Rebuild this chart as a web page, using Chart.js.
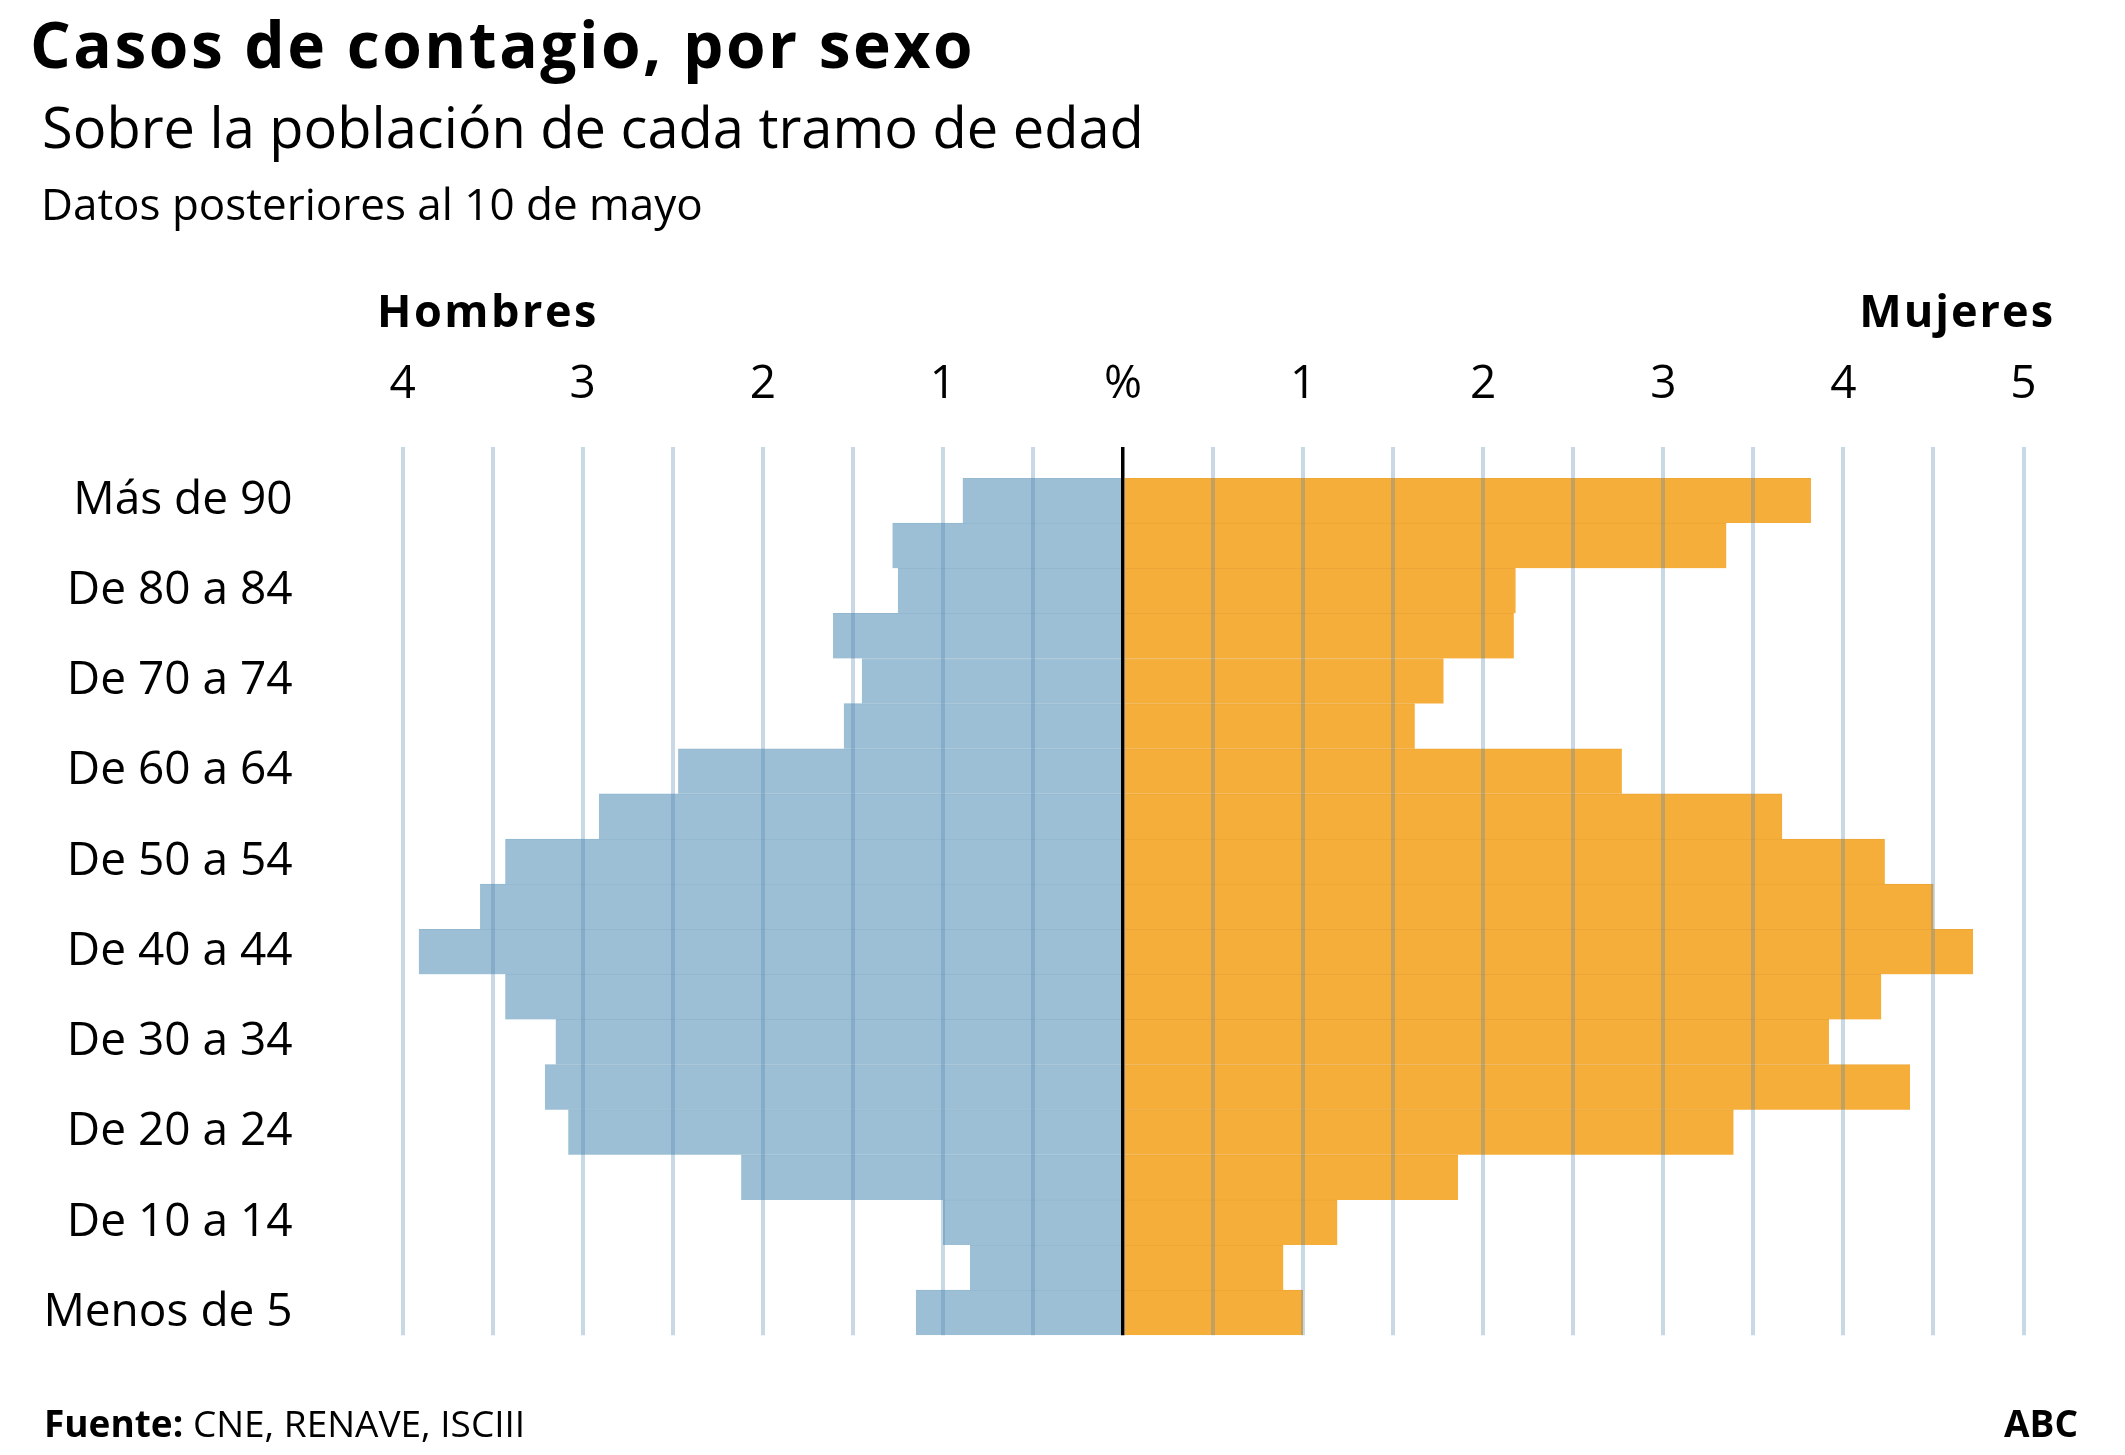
<!DOCTYPE html>
<html lang="es">
<head>
<meta charset="utf-8">
<title>Casos de contagio, por sexo</title>
<script src="https://cdn.jsdelivr.net/npm/chart.js@4.4.1/dist/chart.umd.min.js"></script>
<style>
  html, body { margin: 0; padding: 0; background: #fff; }
  body { width: 2125px; height: 1455px; position: relative; overflow: hidden; font-family: "Open Sans", sans-serif; color: #000; }
  #chart { position: absolute; left: 0; top: 0; }
  .t { position: absolute; white-space: nowrap; line-height: 1; color: #000; }
  #title { left: 30px; top: 12px; font-size: 64px; font-weight: 700; letter-spacing: 2.5px; }
  #subtitle { left: 42px; top: 98px; font-size: 56px; font-weight: 400; }
  #note { left: 41px; top: 181px; font-size: 44px; font-weight: 400; }
  #hombres { left: 377px; top: 287px; font-size: 45px; font-weight: 700; letter-spacing: 2.5px; }
  #mujeres { right: 70px; top: 287px; font-size: 45px; font-weight: 700; letter-spacing: 2px; }
  #source { left: 44px; top: 1404px; font-size: 37px; }
  #source b { font-weight: 700; }
  #brand { right: 47px; top: 1404px; font-size: 37px; font-weight: 700; }
</style>
</head>
<body>
<canvas id="chart" width="2125" height="1455"></canvas>
<div class="t" id="title">Casos de contagio, por sexo</div>
<div class="t" id="subtitle">Sobre la población de cada tramo de edad</div>
<div class="t" id="note">Datos posteriores al 10 de mayo</div>
<div class="t" id="hombres">Hombres</div>
<div class="t" id="mujeres">Mujeres</div>
<div class="t" id="source"><b>Fuente:</b> CNE, RENAVE, ISCIII</div>
<div class="t" id="brand">ABC</div>
<script>
// Age groups, top to bottom
const categories = ['Más de 90','De 85 a 89','De 80 a 84','De 75 a 79','De 70 a 74','De 65 a 69','De 60 a 64','De 55 a 59','De 50 a 54','De 45 a 49','De 40 a 44','De 35 a 39','De 30 a 34','De 25 a 29','De 20 a 24','De 15 a 19','De 10 a 14','De 5 a 9','Menos de 5'];
// % of cases over population of each age band
const hombres = [0.89, 1.28, 1.25, 1.61, 1.45, 1.55, 2.47, 2.91, 3.43, 3.57, 3.91, 3.43, 3.15, 3.21, 3.08, 2.12, 1.00, 0.85, 1.15];
const mujeres = [3.82, 3.35, 2.18, 2.17, 1.78, 1.62, 2.77, 3.66, 4.23, 4.50, 4.72, 4.21, 3.92, 4.37, 3.39, 1.86, 1.19, 0.89, 1.00];
// Axis ticks
const tickValues = [-4, -3, -2, -1, 0, 1, 2, 3, 4, 5];
const tickLabels = ['4', '3', '2', '1', '%', '1', '2', '3', '4', '5'];

const GRID = 'rgba(85,135,175,0.32)';
const FONT = '"Open Sans", sans-serif';

new Chart(document.getElementById('chart'), {
  type: 'bar',
  data: {
    labels: categories,
    datasets: [
      {
        label: 'Hombres',
        data: hombres.map(v => -v),
        backgroundColor: '#9cbfd5',
        borderColor: '#92b7ce',
        borderWidth: { top: 1, bottom: 0, left: 0, right: 0 },
        borderSkipped: false,
        barPercentage: 1,
        categoryPercentage: 1
      },
      {
        label: 'Mujeres',
        data: mujeres,
        backgroundColor: '#f6ae3b',
        borderColor: '#eca536',
        borderWidth: { top: 1, bottom: 0, left: 0, right: 0 },
        borderSkipped: false,
        barPercentage: 1,
        categoryPercentage: 1
      }
    ]
  },
  options: {
    indexAxis: 'y',
    responsive: false,
    devicePixelRatio: 1,
    animation: false,
    layout: { padding: { top: 278, right: 101.5, bottom: 119.7, left: 0 } },
    plugins: { legend: { display: false }, tooltip: { enabled: false }, title: { display: false } },
    scales: {
      x: {
        position: 'top',
        stacked: true,
        min: -4,
        max: 5,
        afterFit: s => { s.height = 200; s.paddingLeft = 0; s.paddingRight = 0; },
        afterBuildTicks: s => {
          const t = [];
          for (let v = -4; v <= 5.001; v += 0.5) t.push({ value: Math.round(v * 2) / 2 });
          s.ticks = t;
        },
        border: { display: false },
        grid: {
          z: 1,
          drawOnChartArea: true,
          drawTicks: true,
          tickLength: 31,
          color: c => (c.tick && c.tick.value === 0 ? '#000' : GRID),
          tickColor: c => (c.tick && c.tick.value === 0 ? '#000' : GRID),
          lineWidth: c => (c.tick && c.tick.value === 0 ? 3.5 : 4),
          tickWidth: c => (c.tick && c.tick.value === 0 ? 3.5 : 4)
        },
        ticks: {
          autoSkip: false,
          maxRotation: 0,
          padding: 35,
          color: '#000',
          font: { family: FONT, size: 46 },
          callback: v => {
            const i = tickValues.indexOf(v);
            return i >= 0 ? tickLabels[i] : '';
          }
        }
      },
      y: {
        stacked: true,
        afterFit: s => { s.width = 402.6; s.paddingTop = 0; s.paddingBottom = 0; },
        border: { display: false },
        grid: { display: false, drawTicks: false },
        ticks: {
          autoSkip: false,
          padding: 110,
          color: '#000',
          font: { family: FONT, size: 46 },
          callback: (v, i) => (i % 2 === 0 ? categories[i] : '')
        }
      }
    }
  }
});
</script>
</body>
</html>
